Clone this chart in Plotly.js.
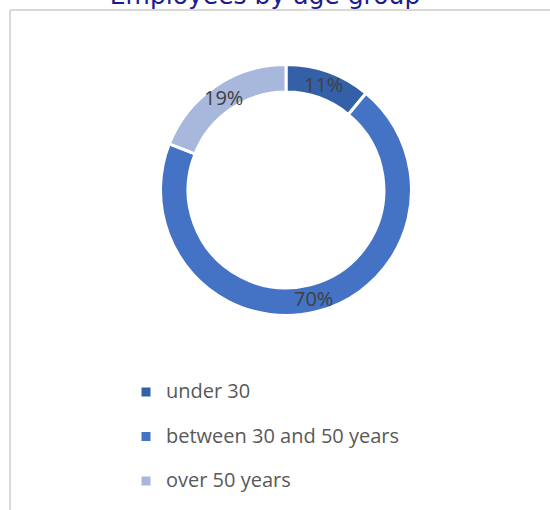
<!DOCTYPE html>
<html>
<head>
<meta charset="utf-8">
<script src="https://cdn.plot.ly/plotly-3.0.1.min.js"></script>
<style>
  html, body { margin: 0; padding: 0; background: #ffffff; }
  #chart { width: 550px; height: 510px; }
</style>
</head>
<body>
<div id="chart"></div>
<script>
// ---- data ----
const categories = ['under 30', 'between 30 and 50 years', 'over 50 years'];
const shares = [11, 70, 19];
const sliceColors = ['#3460a8', '#4472c4', '#a8b7dc'];
const chartTitle = 'Employees by age group';

// ---- geometry (layout) ----
const W = 550, H = 510;
const CX = 286, CY = 190, R_OUT = 125.5, HOLE = 0.78;
const px = v => v / W;
const py = v => 1 - v / H;

// legend labels: 20px text, with a blank second line to widen the row spacing
const legendLabels = categories.map(c => '<span style="font-size:20px">' + c + '</span><br> ');

const trace = {
  type: 'pie',
  labels: legendLabels,
  values: shares,
  hole: HOLE,
  sort: false,
  direction: 'clockwise',
  rotation: 0,
  marker: { colors: sliceColors, line: { color: '#ffffff', width: 3 } },
  textinfo: 'none',
  domain: { x: [px(CX - R_OUT), px(CX + R_OUT)], y: [py(CY + R_OUT), py(CY - R_OUT)] },
  hoverinfo: 'none'
};

// percentage labels, horizontal, centred in the ring at each slice's mid-angle
const total = shares.reduce((a, b) => a + b, 0);
const rMid = R_OUT * (1 + HOLE) / 2;
let cum = 0;
const pctLabels = shares.map(v => {
  const mid = (cum + v / 2) / total * 2 * Math.PI;
  cum += v;
  return {
    text: Math.round(v / total * 100) + '%',
    xref: 'paper', yref: 'paper',
    x: px(CX + rMid * Math.sin(mid)),
    y: py(CY - rMid * Math.cos(mid)),
    xanchor: 'center', yanchor: 'middle',
    showarrow: false,
    font: { family: 'Open Sans, sans-serif', size: 20, color: '#404040' }
  };
});

const layout = {
  width: W, height: H,
  margin: { l: 0, r: 0, t: 0, b: 0, autoexpand: false },
  paper_bgcolor: 'rgba(0,0,0,0)',
  plot_bgcolor: 'rgba(0,0,0,0)',
  title: {
    text: chartTitle,
    font: { family: 'DejaVu Sans, sans-serif', size: 25, color: '#1c1c8e' },
    x: 265 / W, xref: 'container', xanchor: 'center',
    y: 1 - 4 / H, yref: 'container', yanchor: 'bottom'
  },
  showlegend: true,
  legend: {
    x: px(126), xanchor: 'left',
    y: py(375), yanchor: 'top',
    valign: 'top',
    font: { family: 'Open Sans, sans-serif', size: 16, color: '#595959' },
    bgcolor: 'rgba(0,0,0,0)',
    borderwidth: 0
  },
  annotations: pctLabels,
  shapes: [
    { type: 'line', xref: 'paper', yref: 'paper', x0: px(10), x1: px(552), y0: py(10), y1: py(10),
      line: { color: '#d9d9d9', width: 2 }, layer: 'below' },
    { type: 'line', xref: 'paper', yref: 'paper', x0: px(10), x1: px(10), y0: py(10), y1: py(512),
      line: { color: '#d9d9d9', width: 2 }, layer: 'below' }
  ]
};

Plotly.newPlot('chart', [trace], layout, { displayModeBar: false, staticPlot: true });
</script>
</body>
</html>
